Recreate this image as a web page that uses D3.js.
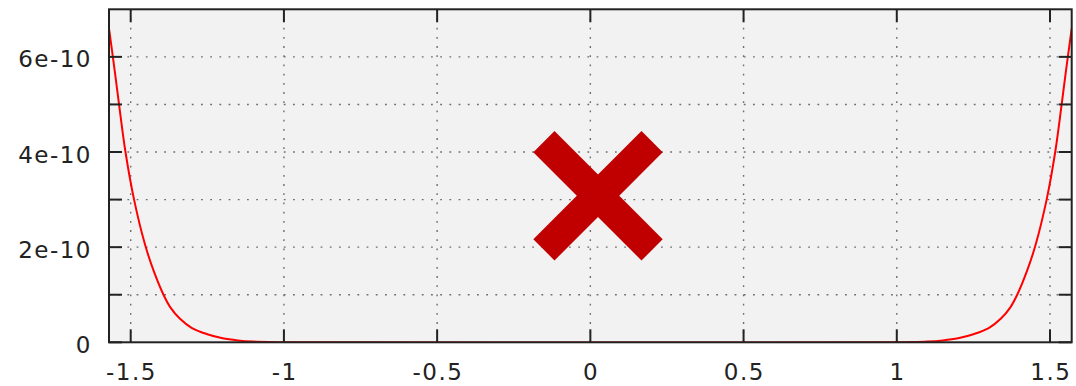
<!DOCTYPE html>
<html>
<head>
<meta charset="utf-8">
<script src="https://cdn.jsdelivr.net/npm/d3@7"></script>
<style>
  html, body { margin: 0; padding: 0; background: #ffffff; }
  svg { display: block; }
  .lbl { font-family: "DejaVu Sans", sans-serif; font-size: 23px; fill: #222; letter-spacing: 1.5px; }
</style>
</head>
<body>
<svg id="chart" width="1076" height="386"></svg>
<script>
// Curve samples: x positions and values (units of 1e-10)
const curveX = [
  -1.5708, -1.552, -1.537, -1.517, -1.489, -1.453, -1.425, -1.393, -1.37, -1.34,
  -1.3, -1.25, -1.2, -1.15, -1.1, -1.05, -1.0,
  1.0, 1.05, 1.1, 1.15, 1.2, 1.25, 1.3, 1.34, 1.37,
  1.393, 1.425, 1.453, 1.489, 1.517, 1.537, 1.552, 1.5708
];
const curveY = [
  6.6, 5.7, 4.95, 4.0, 3.0, 2.05, 1.5, 1.0, 0.73, 0.5,
  0.3, 0.17, 0.085, 0.04, 0.015, 0.004, 0,
  0, 0.004, 0.015, 0.04, 0.085, 0.17, 0.3, 0.5, 0.73,
  1.0, 1.5, 2.05, 3.0, 4.0, 4.95, 5.7, 6.6
];
const xTicks = [-1.5, -1, -0.5, 0, 0.5, 1, 1.5];
const xTickLabels = ["-1.5", "-1", "-0.5", "0", "0.5", "1", "1.5"];
const yMajorTicks = [0, 2e-10, 4e-10, 6e-10];
const yTickLabels = ["0", "2e-10", "4e-10", "6e-10"];
const yMinorTicks = [1e-10, 3e-10, 5e-10];
const xDomain = [-Math.PI / 2, Math.PI / 2];
const yDomain = [0, 7e-10];
const crossAt = [0.025, 3.08e-10];   // centre of the cross mark

const W = 1076, H = 386;
const margin = { left: 109, right: 4.3, top: 9.3, bottom: 43.7 };
const pw = W - margin.left - margin.right;
const ph = H - margin.top - margin.bottom;

const svg = d3.select("#chart");
const x = d3.scaleLinear().domain(xDomain).range([margin.left, margin.left + pw]);
const y = d3.scaleLinear().domain(yDomain).range([margin.top + ph, margin.top]);

// plot background
svg.append("rect")
  .attr("x", margin.left).attr("y", margin.top)
  .attr("width", pw).attr("height", ph)
  .attr("fill", "#f2f2f2");

svg.append("clipPath").attr("id", "clip")
  .append("rect")
  .attr("x", margin.left).attr("y", margin.top)
  .attr("width", pw).attr("height", ph);

// dotted grid
const grid = svg.append("g")
  .attr("stroke", "#6e6e6e")
  .attr("stroke-width", 1.4)
  .attr("stroke-dasharray", "1.8,7.4");
grid.selectAll("line.v").data(xTicks).join("line")
  .attr("class", "v")
  .attr("x1", d => x(d)).attr("x2", d => x(d))
  .attr("y1", margin.top + ph).attr("y2", margin.top);
grid.selectAll("line.h").data(yMajorTicks.slice(1).concat(yMinorTicks)).join("line")
  .attr("class", "h")
  .attr("y1", d => y(d)).attr("y2", d => y(d))
  .attr("x1", margin.left).attr("x2", margin.left + pw);

// data curve
const pts = curveX.map((v, i) => [v, curveY[i] * 1e-10]);
const line = d3.line().x(d => x(d[0])).y(d => y(d[1])).curve(d3.curveCatmullRom.alpha(0.5));
svg.append("path")
  .datum(pts)
  .attr("clip-path", "url(#clip)")
  .attr("d", line)
  .attr("fill", "none")
  .attr("stroke", "#ff0000")
  .attr("stroke-width", 2);

// ticks on all four sides, pointing inward
const tickLen = 13;
const ticks = svg.append("g").attr("stroke", "#222").attr("stroke-width", 2);
xTicks.forEach(v => {
  ticks.append("line").attr("x1", x(v)).attr("x2", x(v))
    .attr("y1", margin.top + ph).attr("y2", margin.top + ph - tickLen);
  ticks.append("line").attr("x1", x(v)).attr("x2", x(v))
    .attr("y1", margin.top).attr("y2", margin.top + tickLen);
});
yMajorTicks.concat(yMinorTicks).forEach(v => {
  ticks.append("line").attr("y1", y(v)).attr("y2", y(v))
    .attr("x1", margin.left).attr("x2", margin.left + tickLen);
  ticks.append("line").attr("y1", y(v)).attr("y2", y(v))
    .attr("x1", margin.left + pw).attr("x2", margin.left + pw - tickLen);
});

// frame
svg.append("rect")
  .attr("x", margin.left).attr("y", margin.top)
  .attr("width", pw).attr("height", ph)
  .attr("fill", "none")
  .attr("stroke", "#222")
  .attr("stroke-width", 2);

// tick labels
svg.append("g").selectAll("text").data(xTicks).join("text")
  .attr("class", "lbl")
  .attr("x", d => x(d) + 0.8)
  .attr("y", margin.top + ph + 37.5)
  .attr("text-anchor", "middle")
  .text((d, i) => xTickLabels[i]);
svg.append("g").selectAll("text").data(yMajorTicks).join("text")
  .attr("class", "lbl")
  .attr("x", margin.left - 17)
  .attr("y", d => y(d) + 10.5)
  .attr("text-anchor", "end")
  .text((d, i) => yTickLabels[i]);

// large red cross mark
const cx = x(crossAt[0]), cy = y(crossAt[1]);
const armLen = 153, armW = 30;
const cross = svg.append("g")
  .attr("transform", `translate(${cx},${cy})`)
  .attr("fill", "#c00000");
[45, -45].forEach(a => {
  cross.append("rect")
    .attr("x", -armLen / 2).attr("y", -armW / 2)
    .attr("width", armLen).attr("height", armW)
    .attr("transform", `rotate(${a})`);
});
</script>
</body>
</html>
